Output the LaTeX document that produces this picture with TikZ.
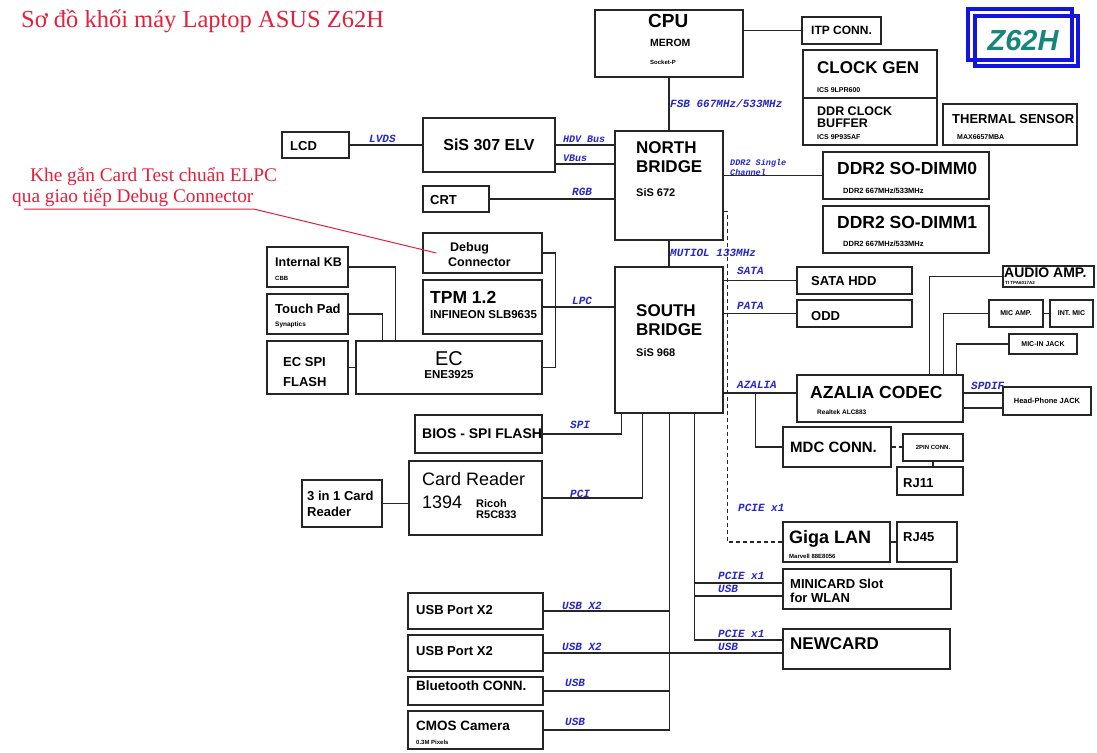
\documentclass[tikz,border=0pt]{standalone}
\usepackage{fontspec}
\setmainfont{Liberation Serif}
\newfontfamily\arialf{Liberation Sans}
\newfontfamily\monof{Liberation Mono}
\usetikzlibrary{calc}
\definecolor{boxgray}{HTML}{262626}
\definecolor{busblue}{HTML}{2626CC}
\definecolor{notered}{HTML}{E4213B}
\definecolor{logoblue}{HTML}{1414E0}
\definecolor{logoteal}{HTML}{16867C}

\newcommand{\fsz}[1]{\fontsize{#1}{#1}\selectfont}
% block from its corners, in pixels of the sheet
\newcommand{\blkbox}[5]{\node[blk,minimum width={#4-#2},minimum height={#5-#3}] (#1) at ({(#2+#4)/2},{(#3+#5)/2}) {};}

\tikzset{
  blk/.style={draw=boxgray,line width=1.3pt,inner sep=0pt,fill=white},
  wire/.style={draw=boxgray,line width=1.2pt},
  lbl/.style={font=\arialf\bfseries\fsz{#1},anchor=west,inner sep=0pt},
  lblc/.style={font=\arialf\bfseries\fsz{#1},inner sep=0pt},
  lreg/.style={font=\arialf\fsz{#1},anchor=west,inner sep=0pt},
  buslbl/.style={font=\monof\bfseries\itshape\fsz{#1},text=busblue,anchor=west,inner sep=0pt},
  notetxt/.style={font=\fsz{19.3},text=notered,anchor=west,inner sep=0pt}
}

\begin{document}
\begin{tikzpicture}[x=1pt,y=-1pt]
  \fill[white] (0,0) rectangle (1097,752);
  \useasboundingbox (0,0) rectangle (1097,752);
  % title and logo
  \node[font=\fsz{24.5},text=notered,anchor=west,inner sep=0pt] (title) at (21,21) {Sơ đồ khối máy Laptop ASUS Z62H};
  \draw[logoblue,line width=3.5pt] (968,9) rectangle (1072,60);
  \draw[logoblue,line width=3.5pt] (975,16) rectangle (1078,66);
  \node[font=\arialf\bfseries\itshape\fsz{29},text=logoteal,inner sep=0pt] (logo) at (1023,41) {Z62H};

  % blocks
  \blkbox{cpu}{595}{10}{743}{77}
  \blkbox{itp}{802}{17}{881}{44}
  \blkbox{clk}{803}{50}{937}{98}
  \blkbox{ddrbuf}{803}{98}{937}{145}
  \blkbox{therm}{943}{104}{1077}{145}
  \blkbox{nb}{615}{131}{723}{240}
  \blkbox{dimm0}{823}{152}{989}{199}
  \blkbox{dimm1}{823}{206}{989}{253}
  \blkbox{lcd}{282}{132}{349}{158}
  \blkbox{sis}{423}{118}{555}{172}
  \blkbox{crt}{423}{186}{489}{212}
  \blkbox{debug}{423}{233}{542}{273}
  \blkbox{tpm}{423}{280}{542}{334}
  \blkbox{kb}{267}{247}{348}{287}
  \blkbox{tp}{267}{294}{348}{334}
  \blkbox{ecspi}{267}{341}{348}{394}
  \blkbox{ec}{356}{341}{542}{394}
  \blkbox{sb}{615}{267}{723}{413}
  \blkbox{hdd}{797}{267}{912}{294}
  \blkbox{odd}{797}{300}{912}{327}
  \blkbox{amp}{1003}{266}{1094}{287}
  \blkbox{micamp}{989}{300}{1043}{327}
  \blkbox{intmic}{1050}{300}{1093}{327}
  \blkbox{micin}{1009}{334}{1077}{354}
  \blkbox{codec}{797}{375}{963}{422}
  \blkbox{hp}{1003}{387}{1091}{415}
  \blkbox{mdc}{783}{427}{891}{467}
  \blkbox{pin2}{903}{434}{963}{461}
  \blkbox{rj11}{897}{467}{963}{495}
  \blkbox{lan}{783}{522}{890}{562}
  \blkbox{rj45}{897}{522}{957}{562}
  \blkbox{mini}{783}{569}{951}{609}
  \blkbox{newcard}{783}{629}{950}{669}
  \blkbox{bios}{415}{415}{542}{453}
  \blkbox{card}{409}{461}{542}{535}
  \blkbox{cardslot}{302}{480}{382}{527}
  \blkbox{usba}{408}{593}{543}{629}
  \blkbox{usbb}{408}{635}{543}{671}
  \blkbox{bt}{408}{677}{543}{705}
  \blkbox{cmos}{408}{711}{543}{749}

  % north bridge side
  \draw[wire] (itp.west) -- (itp.west -| cpu.east);
  \draw[wire] (cpu.south) -- (nb.north);
  \draw[wire] (nb.south) -- (sb.north);
  \draw[wire] (lcd.east) -- (lcd.east -| sis.west);
  \coordinate (vbus) at ($(sis.east)+(0,19)$);
  \draw[wire] (sis.east) -- (sis.east -| nb.west);
  \draw[wire] (vbus) -- (vbus -| nb.west);
  \draw[wire] (crt.east) -- (crt.east -| nb.west);
  \draw[wire] (nb.east |- dimm0.west) -- (dimm0.west);
  \draw[wire,dash pattern=on 4pt off 3pt] ($(nb.north east)+(0,81)$) -| ($(lan.west)+(-55,0)$) -- (lan.west);

  % EC and LPC side
  \draw[wire] (kb.east) -| ($(ec.north west)+(40,0)$);
  \draw[wire] (tp.east) -| ($(ec.north west)+(27,0)$);
  \draw[wire] (ecspi) -- (ec);
  \draw[wire] (debug.east) -- ++(13,0) |- (ec.east);
  \draw[wire] (tpm.east) -- (tpm.east -| sb.west);
  \draw[wire] (bios.east) -| ($(sb.south west)+(7,0)$);
  \draw[wire] (card.east) -| ($(sb.south west)+(28,0)$);
  \draw[wire] (cardslot.east) -- (cardslot.east -| card.west);

  % USB and PCIE buses
  \coordinate (usbbus) at ($(sb.south west)+(55,0)$);
  \coordinate (pciebus) at ($(sb.south west)+(80,0)$);
  \coordinate (minipcie) at ($(mini.west)+(0,-6)$);
  \coordinate (miniusb) at ($(mini.west)+(0,7)$);
  \draw[wire] (usbbus) |- (cmos.east);
  \draw[wire] (usba.east) -- (usba.east -| usbbus);
  \draw[wire] (bt.east) -- (bt.east -| usbbus);
  \draw[wire] (usbb.east) -- (usbb.east -| newcard.west);
  \draw[wire] (pciebus) |- ($(newcard.west)+(0,-9)$);
  \draw[wire] (minipcie) -- (minipcie -| pciebus);
  \draw[wire] (miniusb) -- (miniusb -| pciebus);

  % south bridge right side
  \coordinate (azline) at ($(codec.west)+(0,-5.5)$);
  \coordinate (spdif) at ($(hp.west)+(0,-8)$);
  \coordinate (hpline) at ($(hp.west)+(0,7)$);
  \draw[wire] (hdd.west) -- (hdd.west -| sb.east);
  \draw[wire] (odd.west) -- (odd.west -| sb.east);
  \draw[wire] (azline) -- (azline -| sb.east);
  \draw[wire] ($(azline)+(-41,0)$) |- (mdc.west);
  \draw[wire,dash pattern=on 4pt off 3pt] (mdc.east) -- (mdc.east -| pin2.west);
  \draw[wire] (pin2.south) -- (pin2.south |- rj11.north);
  \draw[wire] (lan.east) -- (lan.east -| rj45.west);
  \draw[wire] ($(codec.north west)+(133,0)$) |- (amp.west);
  \draw[wire] ($(codec.north west)+(147,0)$) |- (micamp.west);
  \draw[wire] ($(codec.north west)+(160,0)$) |- (micin.west);
  \draw[wire] (micamp) -- (intmic);
  \draw[wire] (spdif) -- (spdif -| codec.east);
  \draw[wire] (hpline) -- (hpline -| codec.east);

  % note on the debug connector
  \node[notetxt] (notea) at (30,177) {Khe gắn Card Test chuẩn ELPC};
  \node[notetxt] (noteb) at (12,198) {qua giao tiếp Debug Connector};
  \coordinate (uline) at (24,209);
  \draw[notered,line width=1pt] (uline) -- (uline -| noteb.east) -- ([xshift=14pt]debug.west);

  % block texts
  \node[lbl=19] (cpu-a) at (648,21) {CPU};
  \node[lbl=10.5] (cpu-b) at (650,43) {MEROM};
  \node[lbl=6] (cpu-c) at (650,62) {Socket-P};
  \node[lblc=12] (itp-a) at (itp) {ITP CONN.};
  \node[lbl=17] (clk-a) at (817,68) {CLOCK GEN};
  \node[lbl=7] (clk-b) at (817,90) {ICS 9LPR600};
  \node[lbl=12.5] (buf-a) at (817,111) {DDR CLOCK};
  \node[lbl=12.5] (buf-b) at (817,123) {BUFFER};
  \node[lbl=7] (buf-c) at (817,137) {ICS 9P935AF};
  \node[lbl=13] (therm-a) at (952,119) {THERMAL SENSOR};
  \node[lbl=7] (therm-b) at (957,137) {MAX6657MBA};
  \node[lbl=17] (nb-a) at (636,148) {NORTH};
  \node[lbl=17] (nb-b) at (636,167) {BRIDGE};
  \node[lbl=11] (nb-c) at (636,193) {SiS 672};
  \node[lbl=17.5] (dimm0-a) at (837,168) {DDR2 SO-DIMM0};
  \node[lbl=7.5] (dimm0-b) at (843,191) {DDR2 667MHz/533MHz};
  \node[lbl=17.5] (dimm1-a) at (837,222) {DDR2 SO-DIMM1};
  \node[lbl=7.5] (dimm1-b) at (843,244) {DDR2 667MHz/533MHz};
  \node[lbl=13] (lcd-a) at (290,146) {LCD};
  \node[lblc=16] (sis-a) at (sis) {SiS 307 ELV};
  \node[lbl=13] (crt-a) at (430,200) {CRT};
  \node[lbl=12.5] (debug-a) at (450,248) {Debug};
  \node[lbl=12.5] (debug-b) at (448,262) {Connector};
  \node[lbl=17.5] (tpm-a) at (430,297) {TPM 1.2};
  \node[lbl=11.5] (tpm-b) at (430,315) {INFINEON SLB9635};
  \node[lbl=12.5] (kb-a) at (275,262) {Internal KB};
  \node[lbl=6] (kb-b) at (275,278) {CBB};
  \node[lbl=13] (tp-a) at (275,309) {Touch Pad};
  \node[lbl=6.5] (tp-b) at (275,325) {Synaptics};
  \node[lbl=13] (ecspi-a) at (283,362) {EC SPI};
  \node[lbl=13] (ecspi-b) at (283,382) {FLASH};
  \node[font=\arialf\fsz{20},inner sep=0pt] (ec-a) at (449,359) {EC};
  \node[lblc=11.5] (ec-b) at (449,375) {ENE3925};
  \node[lbl=17] (sb-a) at (636,311) {SOUTH};
  \node[lbl=17] (sb-b) at (636,330) {BRIDGE};
  \node[lbl=11] (sb-c) at (636,353) {SiS 968};
  \node[lbl=13] (hdd-a) at (811,281) {SATA HDD};
  \node[lbl=13] (odd-a) at (811,316) {ODD};
  \node[lbl=14] (amp-a) at (1004,273) {AUDIO AMP.};
  \node[lbl=4.5] (amp-b) at (1005,283) {TI TPA6017A2};
  \node[lblc=7] (micamp-a) at (micamp) {MIC AMP.};
  \node[lblc=7] (intmic-a) at (intmic) {INT. MIC};
  \node[lblc=7] (micin-a) at (micin) {MIC-IN JACK};
  \node[lbl=17.5] (codec-a) at (810,392) {AZALIA CODEC};
  \node[lbl=6.5] (codec-b) at (817,412) {Realtek ALC883};
  \node[lblc=7.5] (hp-a) at (hp) {Head-Phone JACK};
  \node[lbl=15] (mdc-a) at (790,447) {MDC CONN.};
  \node[lblc=6] (pin2-a) at (pin2) {2PIN CONN.};
  \node[lbl=13] (rj11-a) at (903,483) {RJ11};
  \node[lbl=18] (lan-a) at (789,539) {Giga LAN};
  \node[lbl=6] (lan-b) at (789,556) {Marvell 88E8056};
  \node[lbl=13] (rj45-a) at (903,537) {RJ45};
  \node[lbl=13] (mini-a) at (790,584) {MINICARD Slot};
  \node[lbl=13] (mini-b) at (790,598) {for WLAN};
  \node[lbl=17] (newcard-a) at (790,644) {NEWCARD};
  \node[lbl=14] (bios-a) at (422,434) {BIOS - SPI FLASH};
  \node[lreg=18] (card-a) at (422,479) {Card Reader};
  \node[lreg=18] (card-b) at (422,502) {1394};
  \node[lbl=11] (card-c) at (476,504) {Ricoh};
  \node[lbl=11] (card-d) at (476,515) {R5C833};
  \node[lbl=13] (cardslot-a) at (307,496) {3 in 1 Card};
  \node[lbl=13] (cardslot-b) at (307,512) {Reader};
  \node[lbl=13] (usba-a) at (416,610) {USB Port X2};
  \node[lbl=13] (usbb-a) at (416,651) {USB Port X2};
  \node[lbl=13.5] (bt-a) at (416,686) {Bluetooth CONN.};
  \node[lbl=13.5] (cmos-a) at (416,726) {CMOS Camera};
  \node[lbl=6] (cmos-b) at (416,742) {0.3M Pixels};

  % bus names
  \node[buslbl=11] (fsb) at (670,104) {FSB 667MHz/533MHz};
  \node[buslbl=11] (mutiol) at (670,253) {MUTIOL 133MHz};
  \node[buslbl=8.5] (ddra) at (730,163) {DDR2 Single};
  \node[buslbl=8.5] (ddrb) at (730,172) {Channel};
  \node[buslbl=11] (lvds) at (369,139) {LVDS};
  \node[buslbl=10] (hdv) at (563,139) {HDV Bus};
  \node[buslbl=10] (vbusn) at (563,158) {VBus};
  \node[buslbl=11] (rgb) at (572,192) {RGB};
  \node[buslbl=11] (lpc) at (572,301) {LPC};
  \node[buslbl=11] (spi) at (570,425) {SPI};
  \node[buslbl=11] (pci) at (570,494) {PCI};
  \node[buslbl=11] (sata) at (737,271) {SATA};
  \node[buslbl=11] (pata) at (737,306) {PATA};
  \node[buslbl=11] (azalia) at (737,385) {AZALIA};
  \node[buslbl=11] (spdifn) at (971,386) {SPDIF};
  \node[buslbl=11] (pcielan) at (738,508) {PCIE x1};
  \node[buslbl=11] (pciemini) at (718,576) {PCIE x1};
  \node[buslbl=11] (usbmini) at (718,589) {USB};
  \node[buslbl=11] (pcienew) at (718,634) {PCIE x1};
  \node[buslbl=11] (usbnew) at (718,647) {USB};
  \node[buslbl=11] (usbxa) at (562,606) {USB X2};
  \node[buslbl=11] (usbxb) at (562,647) {USB X2};
  \node[buslbl=11] (usbbt) at (565,683) {USB};
  \node[buslbl=11] (usbcam) at (565,722) {USB};
\end{tikzpicture}
\end{document}
